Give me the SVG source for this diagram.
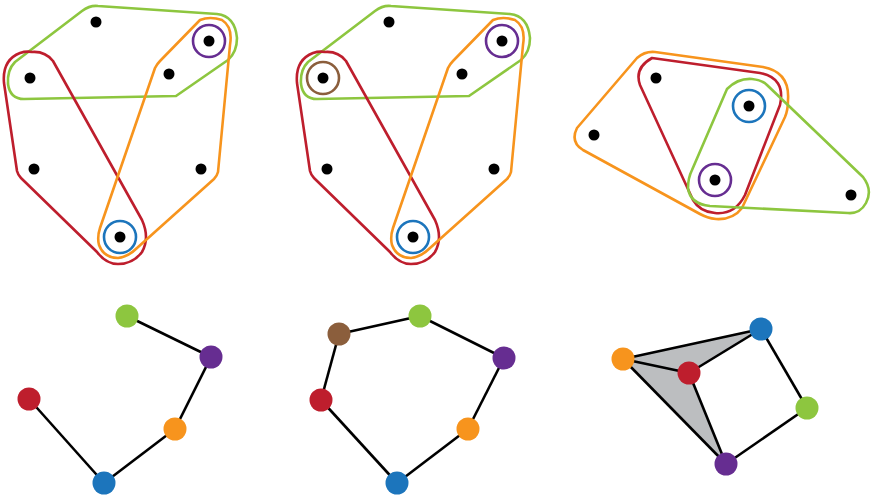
<svg xmlns="http://www.w3.org/2000/svg" width="871" height="495" viewBox="0 0 871 495">
<defs>
<style>
.h{fill:none;stroke-width:2.6;stroke-linejoin:round}
.g{stroke:#8dc63f}.o{stroke:#f7941d}.r{stroke:#be1e2d}.p{stroke:#662d91}.b{stroke:#1c75bc}.br{stroke:#8b5e3c}
.d{fill:#000}
.ring{fill:none;stroke-width:2.6}
.e{stroke:#000;stroke-width:2.6;fill:none}
</style>
<g id="hulls">
<path id="hg" class="h g" d="M82,11 Q90,5 98,6 L217,14 Q235,16 237,38 Q237,52 228,60 L176,96 L24,99 Q10,99 8,84 Q7,70 15,62 Z"/>
<path id="hr" class="h r" d="M32,52 Q45,51 53,61 L142,220 Q150,238 142,252 Q133,264 118,264 Q106,264 97,252 L21,178 Q18,175 17,171 L4,83 Q2,60 20,53 Q26,51 32,52 Z"/>
<path id="ho" class="h o" d="M200,20 Q210,16 222,20 Q233,27 230,45 L218,172 Q217,176 214,179 L137,248 Q128,257 118,258 Q104,258 99,245 Q97,237 100,228 L155,68 Q157,64 160,61 Z"/>
<g id="dots">
<circle class="d" cx="96" cy="22" r="5.5"/>
<circle class="d" cx="30" cy="78" r="5.5"/>
<circle class="d" cx="209" cy="41" r="5.5"/>
<circle class="d" cx="169" cy="74" r="5.5"/>
<circle class="d" cx="34" cy="169" r="5.5"/>
<circle class="d" cx="201" cy="169" r="5.5"/>
<circle class="d" cx="120" cy="237" r="5.5"/>
</g>
</g>
</defs>
<g id="panel1">
<use href="#hg"/><use href="#hr"/><use href="#ho"/><use href="#dots"/>
<circle class="ring p" cx="209" cy="41" r="16"/>
<circle class="ring b" cx="120" cy="237" r="16"/>
</g>
<g id="panel2" transform="translate(293,0)">
<use href="#hg"/><use href="#hr"/><use href="#ho"/><use href="#dots"/>
<circle class="ring p" cx="209" cy="41" r="16"/>
<circle class="ring b" cx="120" cy="237" r="16"/>
<circle class="ring br" cx="30" cy="78" r="16"/>
</g>
<g id="panel3">
<path class="h o" d="M655,52 L763,67 Q790,72 788,100 Q788,110 785,117 L742,208 Q733,220 716,219 Q707,218 700,214 L583,150 Q570,142 577,128 L637,58 Q645,51 655,52 Z"/>
<path class="h r" d="M652,58 L760,73 Q786,78 780,105 L745,195 Q735,215 715,213 Q700,212 693,200 L640,85 Q634,68 652,58 Z"/>
<path class="h g" d="M727,89 Q738,78 752,79 Q762,80 767,85 L863,177 Q873,190 866,203 Q860,214 848,213 L710,206 Q690,204 688,188 Q688,178 692,170 Z"/>
<circle class="d" cx="656" cy="78" r="5.5"/>
<circle class="d" cx="594" cy="135" r="5.5"/>
<circle class="d" cx="749" cy="106" r="5.5"/>
<circle class="d" cx="715" cy="180" r="5.5"/>
<circle class="d" cx="851" cy="195" r="5.5"/>
<circle class="ring b" cx="749" cy="106" r="16"/>
<circle class="ring p" cx="715" cy="180" r="16"/>
</g>
<g id="connectors">
<line class="e" x1="127" y1="316" x2="211" y2="357"/>
<line class="e" x1="211" y1="357" x2="175" y2="429"/>
<line class="e" x1="175" y1="429" x2="104" y2="483"/>
<line class="e" x1="104" y1="483" x2="29" y2="399"/>
<line class="e" x1="339" y1="334" x2="420" y2="316"/>
<line class="e" x1="420" y1="316" x2="504" y2="358"/>
<line class="e" x1="504" y1="358" x2="468" y2="429"/>
<line class="e" x1="468" y1="429" x2="397" y2="483"/>
<line class="e" x1="397" y1="483" x2="321" y2="400"/>
<line class="e" x1="321" y1="400" x2="339" y2="334"/>
<polygon fill="#bcbec0" stroke="none" points="623,359 761,329 689,373 726,464"/>
<line class="e" x1="623" y1="359" x2="761" y2="329"/>
<line class="e" x1="623" y1="359" x2="689" y2="373"/>
<line class="e" x1="623" y1="359" x2="726" y2="464"/>
<line class="e" x1="689" y1="373" x2="761" y2="329"/>
<line class="e" x1="689" y1="373" x2="726" y2="464"/>
<line class="e" x1="761" y1="329" x2="807" y2="408"/>
<line class="e" x1="807" y1="408" x2="726" y2="464"/>
</g>
<g id="n1-green"><circle cx="127" cy="316" r="11.5" fill="#8dc63f"/></g>
<g id="n1-purple"><circle cx="211" cy="357" r="11.5" fill="#662d91"/></g>
<g id="n1-red"><circle cx="29" cy="399" r="11.5" fill="#be1e2d"/></g>
<g id="n1-orange"><circle cx="175" cy="429" r="11.5" fill="#f7941d"/></g>
<g id="n1-blue"><circle cx="104" cy="483" r="11.5" fill="#1c75bc"/></g>
<g id="n2-brown"><circle cx="339" cy="334" r="11.5" fill="#8b5e3c"/></g>
<g id="n2-green"><circle cx="420" cy="316" r="11.5" fill="#8dc63f"/></g>
<g id="n2-purple"><circle cx="504" cy="358" r="11.5" fill="#662d91"/></g>
<g id="n2-red"><circle cx="321" cy="400" r="11.5" fill="#be1e2d"/></g>
<g id="n2-orange"><circle cx="468" cy="429" r="11.5" fill="#f7941d"/></g>
<g id="n2-blue"><circle cx="397" cy="483" r="11.5" fill="#1c75bc"/></g>
<g id="n3-orange"><circle cx="623" cy="359" r="11.5" fill="#f7941d"/></g>
<g id="n3-red"><circle cx="689" cy="373" r="11.5" fill="#be1e2d"/></g>
<g id="n3-blue"><circle cx="761" cy="329" r="11.5" fill="#1c75bc"/></g>
<g id="n3-green"><circle cx="807" cy="408" r="11.5" fill="#8dc63f"/></g>
<g id="n3-purple"><circle cx="726" cy="464" r="11.5" fill="#662d91"/></g>
</svg>
